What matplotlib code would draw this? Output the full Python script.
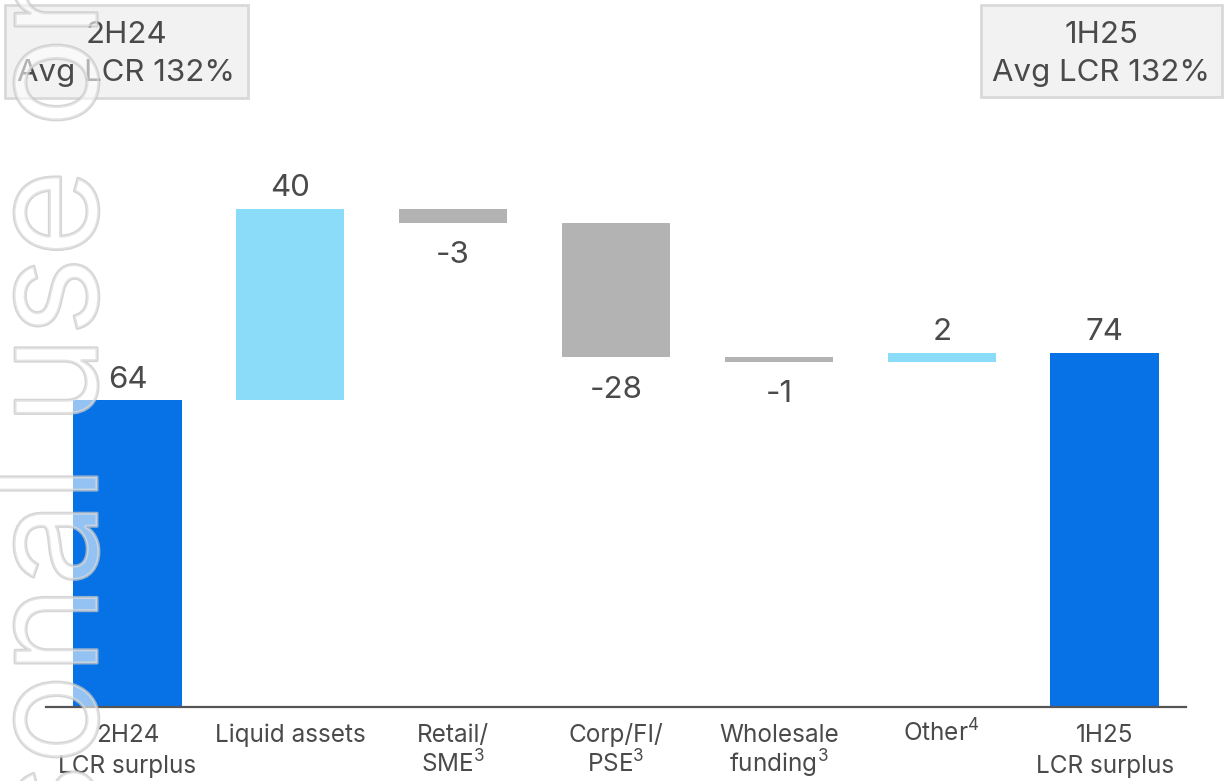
import matplotlib
matplotlib.use("Agg")
import matplotlib.pyplot as plt
import matplotlib.patheffects as pe
from matplotlib.patches import Rectangle
import numpy as np

plt.rcParams['font.family'] = ['Inter', 'DejaVu Sans']

# data
categories = ["2H24\nLCR surplus", "Liquid assets", "Retail/\nSME$\\mathregular{^3}$",
              "Corp/FI/\nPSE$\\mathregular{^3}$", "Wholesale\nfunding$\\mathregular{^3}$",
              "Other$\\mathregular{^4}$", "1H25\nLCR surplus"]
values = [64, 40, -3, -28, -1, 2, 74]
is_total = [True, False, False, False, False, False, True]
box_left = ["2H24", "Avg LCR 132%"]
box_right = ["1H25", "Avg LCR 132%"]

dark_blue = '#0672E6'
light_blue = '#8BDCF8'
grey = '#B3B3B3'
txt = '#4a4a4a'

W, H = 1224, 781
fig = plt.figure(figsize=(W / 100, H / 100), dpi=100)
ax = fig.add_axes([46 / W, 74 / H, 1140 / W, 570 / H])

x = np.arange(len(values))
running = 0
bottoms, heights, colors = [], [], []
for v, tot in zip(values, is_total):
    if tot:
        bottoms.append(0)
        heights.append(v)
        colors.append(dark_blue)
        running = v
    else:
        if v >= 0:
            bottoms.append(running)
            colors.append(light_blue)
        else:
            bottoms.append(running + v)
            colors.append(grey)
        heights.append(abs(v))
        running += v

ax.bar(x, heights, bottom=bottoms, width=0.665, color=colors, zorder=2)

for xi, v, b, h in zip(x, values, bottoms, heights):
    if v >= 0:
        ax.annotate(str(v), (xi, b + h), xytext=(0, 9), textcoords='offset points',
                    ha='center', va='baseline', fontsize=22.5, color=txt)
    else:
        ax.annotate(str(v), (xi, b), xytext=(0, -29), textcoords='offset points',
                    ha='center', va='baseline', fontsize=22.5, color=txt)

ax.set_xlim(-0.5, len(values) - 0.5)
ax.set_ylim(0, 119)
for s in ['top', 'left', 'right']:
    ax.spines[s].set_visible(False)
ax.spines['bottom'].set_color('#555555')
ax.spines['bottom'].set_linewidth(1.6)
ax.spines['bottom'].set_zorder(3)
ax.set_yticks([])
ax.set_xticks(x)
ax.set_xticklabels([])
ax.tick_params(axis='x', length=0)

# category labels, one text per line so superscripts keep the baselines fixed
line_y = [-35 / 570, -66 / 570]
for xi, cat in zip(x, categories):
    for k, part in enumerate(cat.split("\n")):
        ax.text(xi, line_y[k], part, transform=ax.get_xaxis_transform(), ha='center',
                va='baseline', fontsize=17.5, color=txt, clip_on=False)

# boxes at top corners
def draw_box(x0, y0, x1, y1, lines):
    fig.patches.append(Rectangle((x0 / W, 1 - y1 / H), (x1 - x0) / W, (y1 - y0) / H,
                                 transform=fig.transFigure, facecolor='#f2f2f2',
                                 edgecolor='#d9d9d9', linewidth=2, zorder=1))
    cx = (x0 + x1) / 2
    fig.text(cx / W, 1 - 35 / H, lines[0], ha='center', va='center', fontsize=22.5, color=txt)
    fig.text(cx / W, 1 - 73 / H, lines[1], ha='center', va='center', fontsize=22.5, color=txt)

draw_box(5, 5, 248, 98, box_left)
draw_box(981, 5, 1222, 97, box_right)

# watermark
wm_style = dict(rotation=90, rotation_mode='anchor', va='baseline', fontsize=108,
                color=(1, 1, 1, 0.35), zorder=10,
                path_effects=[pe.withStroke(linewidth=2.2, foreground=(0.78, 0.78, 0.78, 0.75))])
fig.text(97 / W, 1 - 465 / H, "Personal", ha='right', **wm_style)
fig.text(97 / W, 1 - 425 / H, "use only", ha='left', **wm_style)

fig.savefig("out.png", dpi=100)
